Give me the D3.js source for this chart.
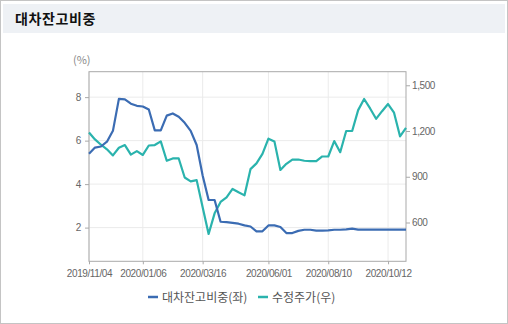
<!DOCTYPE html>
<html>
<head>
<meta charset="utf-8">
<script src="https://cdn.jsdelivr.net/npm/d3@7"></script>
<style>
  html, body { margin: 0; padding: 0; background: #fff; }
  svg { display: block; font-family: "Noto Sans CJK KR", "Noto Sans", sans-serif; }
</style>
</head>
<body>
<svg id="chart" width="508" height="324"></svg>
<script>
// Weekly observation dates
const dates = [
  "2019/11/04","2019/11/11","2019/11/18","2019/11/25","2019/12/02","2019/12/09","2019/12/16","2019/12/23","2019/12/30",
  "2020/01/06","2020/01/13","2020/01/20","2020/01/27","2020/02/03","2020/02/10","2020/02/17","2020/02/24","2020/03/02","2020/03/09",
  "2020/03/16","2020/03/23","2020/03/30","2020/04/06","2020/04/13","2020/04/20","2020/04/27","2020/05/04","2020/05/11","2020/05/18","2020/05/25",
  "2020/06/01","2020/06/08","2020/06/15","2020/06/22","2020/06/29","2020/07/06","2020/07/13","2020/07/20","2020/07/27","2020/08/03",
  "2020/08/10","2020/08/17","2020/08/24","2020/08/31","2020/09/07","2020/09/14","2020/09/21","2020/09/28","2020/10/05","2020/10/08",
  "2020/10/12","2020/10/19","2020/10/26","2020/11/02"
];

// 대차잔고비중 (%), left axis
const lendingRatio = [
  5.40, 5.68, 5.73, 5.95, 6.45, 7.92, 7.90, 7.70, 7.60,
  7.57, 7.43, 6.47, 6.47, 7.15, 7.25, 7.10, 6.82, 6.45, 5.80,
  4.40, 3.27, 3.27, 2.27, 2.25, 2.22, 2.18, 2.10, 2.05, 1.83, 1.83,
  2.10, 2.10, 2.03, 1.75, 1.75, 1.85, 1.90, 1.90, 1.86, 1.86,
  1.87, 1.90, 1.90, 1.92, 1.95, 1.91, 1.91, 1.91, 1.91, 1.91,
  1.91, 1.91, 1.91, 1.91
];

// 수정주가, right axis
const adjPrice = [
  1190, 1145, 1110, 1080, 1040, 1090, 1108, 1045, 1068,
  1043, 1105, 1108, 1132, 1005, 1020, 1020, 895, 870, 878,
  700, 525, 660, 735, 765, 820, 798, 778, 950, 988, 1050,
  1150, 1132, 945, 985, 1013, 1013, 1005, 1003, 1003, 1033,
  1033, 1134, 1061, 1200, 1200, 1337, 1410, 1348, 1280, 1330,
  1377, 1320, 1165, 1220
];

const xTickLabels = ["2019/11/04","2020/01/06","2020/03/16","2020/06/01","2020/08/10","2020/10/12"];
const leftTicks = [2, 4, 6, 8];
const rightTicks = [600, 900, 1200, 1500];
const seriesNames = ["대차잔고비중(좌)", "수정주가(우)"];
const seriesColors = ["#3b6cb3", "#2ab3ad"];

const svg = d3.select("#chart");
const W = 508, H = 324;

// outer frame and header band
svg.append("rect").attr("x", 0.5).attr("y", 0.5).attr("width", W - 1).attr("height", H - 1)
  .attr("fill", "#fff").attr("stroke", "#c4c4c4");
svg.append("rect").attr("x", 3).attr("y", 4).attr("width", W - 6).attr("height", 29)
  .attr("fill", "#eef1f5");
svg.append("text").attr("x", 15).attr("y", 24)
  .attr("font-size", 14).attr("font-weight", "bold").attr("fill", "#111")
  .attr("letter-spacing", 0.6)
  .text("대차잔고비중");

const plot = { left: 89, right: 406, top: 71.7, bottom: 261.3 };

const x = d3.scalePoint().domain(dates).range([plot.left, plot.right]);
const yL = d3.scaleLinear().domain([0.45, 9.17]).range([plot.bottom, plot.top]);
const yR = d3.scaleLinear().domain([345.6, 1589]).range([plot.bottom, plot.top]);

const g = svg.append("g");

// grid
g.selectAll("line.hgrid").data(leftTicks).join("line")
  .attr("x1", plot.left).attr("x2", plot.right)
  .attr("y1", d => yL(d)).attr("y2", d => yL(d))
  .attr("stroke", "#ebebeb").attr("stroke-width", 1);
g.selectAll("line.vgrid").data(xTickLabels).join("line")
  .attr("x1", d => x(d)).attr("x2", d => x(d))
  .attr("y1", plot.top).attr("y2", plot.bottom)
  .attr("stroke", "#ebebeb").attr("stroke-width", 1);

// plot frame
g.append("rect").attr("x", plot.left).attr("y", plot.top)
  .attr("width", plot.right - plot.left).attr("height", plot.bottom - plot.top)
  .attr("fill", "none").attr("stroke", "#a9a9a9");

// axes
const axisStyle = sel => {
  sel.select(".domain").remove();
  sel.selectAll(".tick line").attr("stroke", "#a9a9a9");
  sel.selectAll(".tick text").attr("fill", "#666").attr("font-size", 10)
    .attr("font-family", "'Liberation Sans', Arial, sans-serif").attr("letter-spacing", -0.4);
};

svg.append("g").attr("transform", `translate(${plot.left},0)`)
  .call(d3.axisLeft(yL).tickValues(leftTicks).tickSize(4).tickPadding(4))
  .call(axisStyle);

svg.append("g").attr("transform", `translate(${plot.right},0)`)
  .call(d3.axisRight(yR).tickValues(rightTicks).tickSize(4).tickPadding(2).tickFormat(d3.format(",")))
  .call(axisStyle);

svg.append("g").attr("transform", `translate(0,${plot.bottom})`)
  .call(d3.axisBottom(x).tickValues(xTickLabels).tickSize(3).tickPadding(6))
  .call(axisStyle);

svg.append("text").attr("x", 73).attr("y", 64)
  .attr("font-size", 11).attr("fill", "#888").text("(%)");

// series
const lineL = d3.line().x((d, i) => x(dates[i])).y(d => yL(d));
const lineR = d3.line().x((d, i) => x(dates[i])).y(d => yR(d));

g.append("path").datum(adjPrice).attr("d", lineR)
  .attr("fill", "none").attr("stroke", seriesColors[1]).attr("stroke-width", 2.2)
  .attr("stroke-linejoin", "round");
g.append("path").datum(lendingRatio).attr("d", lineL)
  .attr("fill", "none").attr("stroke", seriesColors[0]).attr("stroke-width", 2.2)
  .attr("stroke-linejoin", "round");

// legend
const legend = svg.append("g").attr("transform", "translate(148,297)");
const legendX = [0, 110];
seriesNames.forEach((name, i) => {
  const item = legend.append("g").attr("transform", `translate(${legendX[i]},0)`);
  item.append("line").attr("x1", 0).attr("x2", 10).attr("y1", 0).attr("y2", 0)
    .attr("stroke", seriesColors[i]).attr("stroke-width", 2.5);
  item.append("text").attr("x", 14).attr("y", 4.5)
    .attr("font-size", 12).attr("fill", "#555").text(name);
});
</script>
</body>
</html>
